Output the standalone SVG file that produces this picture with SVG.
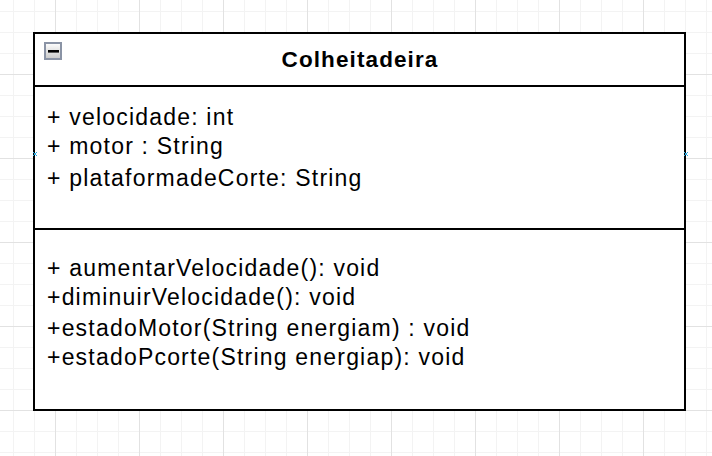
<svg xmlns="http://www.w3.org/2000/svg" width="712" height="456" viewBox="0 0 712 456">
  <style>
    .grid-minor { stroke: #f3f3f3; stroke-width: 1; }
    .grid-major { stroke: #e2e2e2; stroke-width: 1; }
    .frame { fill: #ffffff; stroke: #000000; stroke-width: 2; }
    .sep { stroke: #000000; stroke-width: 2; }
    .title { font-family: "Liberation Sans", Arial, sans-serif; font-size: 22.5px; font-weight: bold; letter-spacing: 1.1px; fill: #000000; }
    .member { font-family: "Liberation Sans", Arial, sans-serif; font-size: 23px; letter-spacing: 1.2px; fill: #000000; }
    .pt { stroke: #29a8e0; stroke-width: 1; fill: none; }
  </style>
  <defs>
    <pattern id="grid" x="55" y="74" width="84" height="84" patternUnits="userSpaceOnUse">
      <path class="grid-minor" d="M21.5 0V84M42.5 0V84M63.5 0V84M0 21.5H84M0 42.5H84M0 63.5H84"/>
      <path class="grid-major" d="M0.5 0V84M0 0.5H84"/>
    </pattern>
    <linearGradient id="btn" x1="0" y1="0" x2="0" y2="1">
      <stop offset="0" stop-color="#ffffff"/>
      <stop offset="1" stop-color="#c8c8c8"/>
    </linearGradient>
  </defs>
  <rect x="0" y="0" width="712" height="456" fill="#ffffff"/>
  <rect x="0" y="0" width="712" height="456" fill="url(#grid)"/>

  <g id="class-colheitadeira">
    <rect class="frame" x="34" y="33" width="651" height="377"/>
    <line class="sep" x1="34" y1="86" x2="685" y2="86"/>
    <line class="sep" x1="34" y1="229" x2="685" y2="229"/>
    <g id="collapse-button">
      <rect x="45" y="43" width="16" height="16" fill="url(#btn)" stroke="#8a93a5" stroke-width="2"/>
      <rect x="48" y="50" width="11" height="2.6" fill="#000000"/>
    </g>
    <text class="title" x="360" y="67" text-anchor="middle">Colheitadeira</text>
    <text class="member" x="47" y="125">+ velocidade: int</text>
    <text class="member" x="47" y="154">+ motor : String</text>
    <text class="member" x="47" y="186">+ plataformadeCorte: String</text>
    <text class="member" x="47" y="276">+ aumentarVelocidade(): void</text>
    <text class="member" x="47" y="305">+diminuirVelocidade(): void</text>
    <text class="member" x="47" y="336">+estadoMotor(String energiam) : void</text>
    <text class="member" x="47" y="365">+estadoPcorte(String energiap): void</text>
  </g>

  <g id="connectors">
    <path class="pt" d="M33 152L37 156M37 152L33 156"/>
    <path class="pt" d="M684 152L688 156M688 152L684 156"/>
  </g>
</svg>
